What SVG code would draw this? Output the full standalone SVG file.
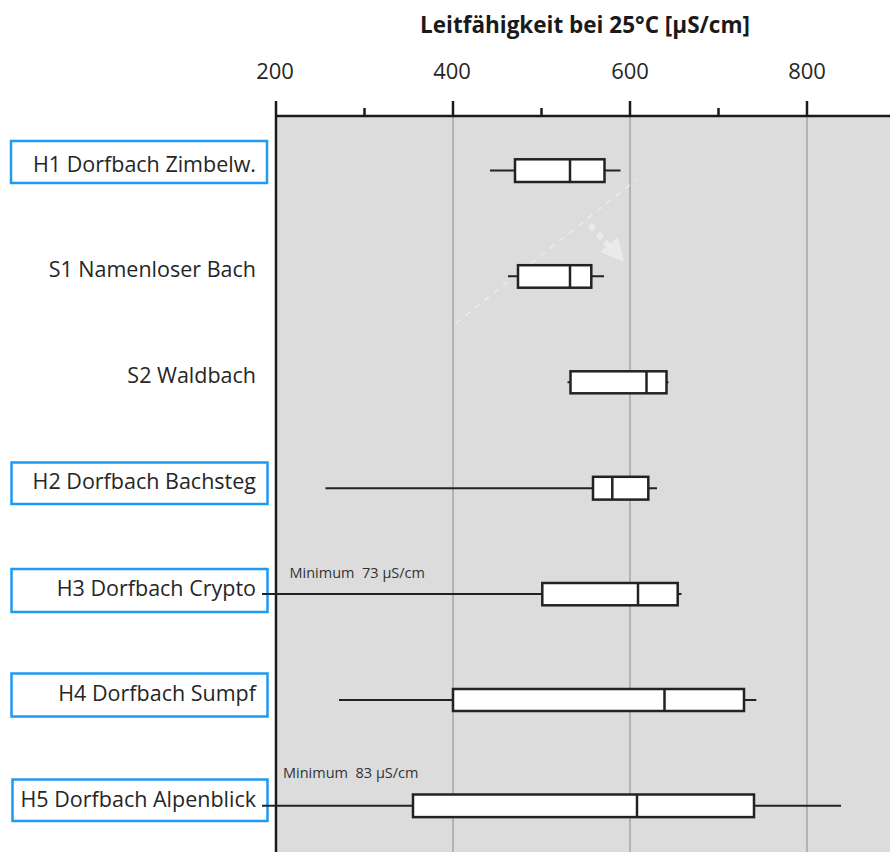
<svg xmlns="http://www.w3.org/2000/svg" width="890" height="852" viewBox="0 0 890 852">
<defs>
<style>
.lbl{font-family:"Open Sans","Noto Sans",sans-serif;font-size:21.5px;fill:#262626;text-anchor:end}
.num{font-family:"Open Sans","Noto Sans",sans-serif;font-size:22px;fill:#262626;text-anchor:middle}
.ttl{font-family:"Open Sans","Noto Sans",sans-serif;font-size:22.5px;font-weight:bold;fill:#1a1a1a;text-anchor:middle}
.min{font-family:"Open Sans","Noto Sans",sans-serif;font-size:14.5px;fill:#333;white-space:pre}
.lbox{fill:#fff;stroke:#1e9bf0;stroke-width:2.5}
.box{fill:#fff;stroke:#222;stroke-width:2.5}
.wh{stroke:#222;stroke-width:2;fill:none}
.med{stroke:#222;stroke-width:2.5}
.grid{stroke:#a6a6a6;stroke-width:1.5}
.ax{stroke:#1a1a1a;stroke-width:2.5;fill:none}
.ghost{stroke:#f2f2f2;stroke-opacity:0.7;stroke-width:1.5;stroke-dasharray:6,6;fill:none}
.ghostf{fill:#eeeeee;fill-opacity:0.8}
</style>
</defs>
<rect x="0" y="0" width="890" height="852" fill="#fff"/>
<g id="plot-area">
<rect x="276" y="116" width="614" height="736" fill="#dcdcdc"/>
<line class="grid" x1="453" y1="116" x2="453" y2="852"/>
<line class="grid" x1="630" y1="116" x2="630" y2="852"/>
<line class="grid" x1="807" y1="116" x2="807" y2="852"/>
</g>
<g id="axis">
<text class="ttl" x="585" y="33">Leitfähigkeit bei 25°C [µS/cm]</text>
<text class="num" x="275" y="79">200</text>
<text class="num" x="452" y="79">400</text>
<text class="num" x="630" y="79">600</text>
<text class="num" x="807" y="79">800</text>
<line class="ax" x1="276" y1="116" x2="890" y2="116"/>
<line class="ax" x1="276" y1="101" x2="276" y2="852"/>
<line class="ax" x1="453" y1="101" x2="453" y2="116"/>
<line class="ax" x1="630" y1="101" x2="630" y2="116"/>
<line class="ax" x1="807" y1="101" x2="807" y2="116"/>
<line class="ax" x1="364.5" y1="108" x2="364.5" y2="116" stroke-width="1.5"/>
<line class="ax" x1="541.5" y1="108" x2="541.5" y2="116" stroke-width="1.5"/>
<line class="ax" x1="718.5" y1="108" x2="718.5" y2="116" stroke-width="1.5"/>
</g>
<g id="connectors">
<line class="ghost" x1="456" y1="323" x2="636" y2="180"/>
<rect class="ghostf" x="589" y="224" width="6" height="6" transform="rotate(45 592 227)"/>
<rect class="ghostf" x="597" y="233" width="6" height="6" transform="rotate(45 600 236)"/>
<rect class="ghostf" x="604" y="241" width="6" height="6" transform="rotate(45 607 244)"/>
<polygon class="ghostf" points="600,252 618,237 624,262"/>
</g>
<g id="H1">
<rect class="lbox" x="11" y="141" width="256" height="42"/>
<text class="lbl" x="256" y="171.5">H1 Dorfbach Zimbelw.</text>
<line class="wh" x1="490" y1="170.5" x2="620.5" y2="170.5"/>
<rect class="box" x="515" y="159.3" width="89.5" height="22.7"/>
<line class="med" x1="570" y1="159.3" x2="570" y2="182"/>
</g>
<g id="S1">
<text class="lbl" x="256" y="276.5">S1 Namenloser Bach</text>
<line class="wh" x1="508" y1="276.3" x2="604" y2="276.3"/>
<rect class="box" x="518" y="265.2" width="73.3" height="22.5"/>
<line class="med" x1="570" y1="265.2" x2="570" y2="287.7"/>
</g>
<g id="S2">
<text class="lbl" x="256" y="383.3">S2 Waldbach</text>
<line class="wh" x1="567.5" y1="382.3" x2="668.5" y2="382.3"/>
<rect class="box" x="570.5" y="371.3" width="96" height="22"/>
<line class="med" x1="646.5" y1="371.3" x2="646.5" y2="393.3"/>
</g>
<g id="H2">
<rect class="lbox" x="11.5" y="462.5" width="256" height="41.5"/>
<text class="lbl" x="256" y="489.3">H2 Dorfbach Bachsteg</text>
<line class="wh" x1="325.5" y1="488.3" x2="657" y2="488.3"/>
<rect class="box" x="593" y="476.8" width="55.3" height="22.8"/>
<line class="med" x1="612.3" y1="476.8" x2="612.3" y2="499.6"/>
</g>
<g id="H3">
<rect class="lbox" x="11.5" y="569" width="256" height="43"/>
<text class="lbl" x="256" y="595.7">H3 Dorfbach Crypto</text>
<text class="min" x="289.5" y="578">Minimum  73 µS/cm</text>
<line class="wh" x1="262" y1="594" x2="681.5" y2="594"/>
<rect class="box" x="542.3" y="583" width="135.4" height="22.3"/>
<line class="med" x1="638" y1="583" x2="638" y2="605.3"/>
</g>
<g id="H4">
<rect class="lbox" x="11.5" y="673.5" width="256" height="43"/>
<text class="lbl" x="256" y="700.7">H4 Dorfbach Sumpf</text>
<line class="wh" x1="339" y1="700" x2="756.3" y2="700"/>
<rect class="box" x="453" y="689" width="291" height="22"/>
<line class="med" x1="664.5" y1="689" x2="664.5" y2="711"/>
</g>
<g id="H5">
<rect class="lbox" x="12.5" y="779.5" width="255" height="41.5"/>
<text class="lbl" x="256" y="806.7">H5 Dorfbach Alpenblick</text>
<text class="min" x="283" y="778">Minimum  83 µS/cm</text>
<line class="wh" x1="262" y1="805.8" x2="841" y2="805.8"/>
<rect class="box" x="413" y="794.5" width="341" height="22.6"/>
<line class="med" x1="637" y1="794.5" x2="637" y2="817.1"/>
</g>
</svg>
